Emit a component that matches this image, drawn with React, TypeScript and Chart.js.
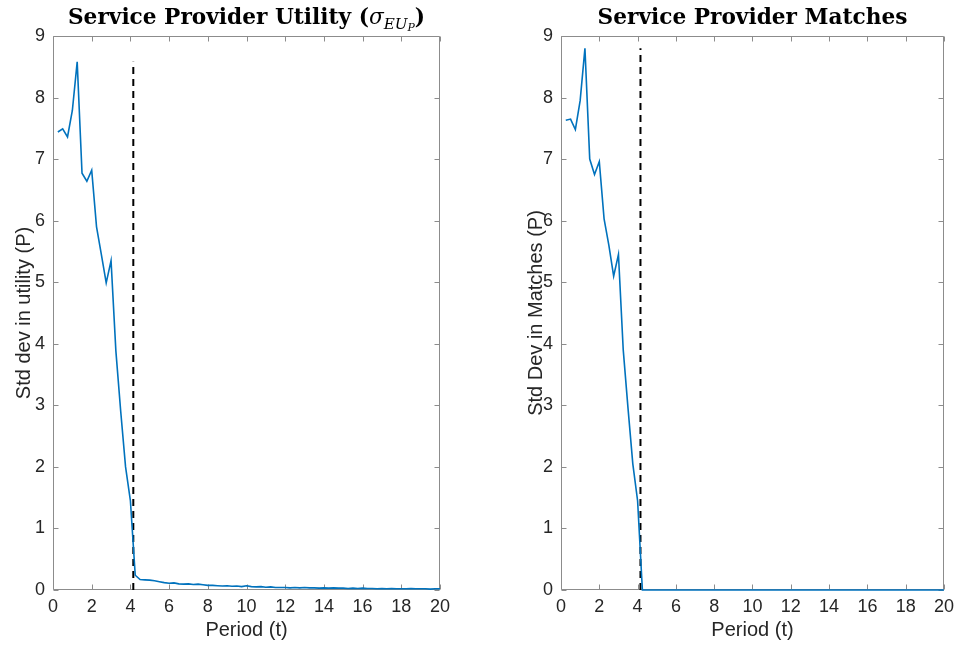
import React, { useEffect, useRef } from "react";
import { Chart, registerables } from "chart.js";

Chart.register(...registerables);

// Period (t) sample points
const periods = [
  0.25, 0.5, 0.75, 1.0, 1.25, 1.5, 1.75, 2.0, 2.25, 2.5, 2.75, 3.0, 3.25, 3.5, 3.75, 4.0,
  4.25, 4.5, 4.75, 5.0, 5.25, 5.5, 5.75, 6.0, 6.25, 6.5, 6.75, 7.0, 7.25, 7.5, 7.75, 8.0,
  8.25, 8.5, 8.75, 9.0, 9.25, 9.5, 9.75, 10.0, 10.25, 10.5, 10.75, 11.0, 11.25, 11.5, 11.75, 12.0,
  12.25, 12.5, 12.75, 13.0, 13.25, 13.5, 13.75, 14.0, 14.25, 14.5, 14.75, 15.0, 15.25, 15.5, 15.75, 16.0,
  16.25, 16.5, 16.75, 17.0, 17.25, 17.5, 17.75, 18.0, 18.25, 18.5, 18.75, 19.0, 19.25, 19.5, 19.75, 20.0,
];

// Std dev in utility (P)
const utilityStd = [
  7.44, 7.49, 7.36, 7.79, 8.58, 6.77, 6.64, 6.82, 5.9, 5.45, 4.99, 5.35, 3.88, 2.9, 2.0, 1.45,
  0.24, 0.17, 0.165, 0.16, 0.15, 0.135, 0.12, 0.11, 0.115, 0.1, 0.095, 0.1, 0.09, 0.095, 0.085, 0.075,
  0.075, 0.07, 0.065, 0.07, 0.06, 0.065, 0.055, 0.07, 0.055, 0.05, 0.055, 0.045, 0.05, 0.04, 0.04, 0.04,
  0.035, 0.04, 0.035, 0.04, 0.035, 0.035, 0.03, 0.035, 0.03, 0.035, 0.03, 0.03, 0.025, 0.03, 0.025, 0.03,
  0.025, 0.025, 0.02, 0.025, 0.02, 0.025, 0.02, 0.02, 0.02, 0.025, 0.02, 0.02, 0.02, 0.015, 0.02, 0.02,
];

// Std dev in matches (P)
const matchesStd = [
  7.63, 7.65, 7.48, 7.95, 8.8, 7.0, 6.75, 6.96, 6.03, 5.6, 5.1, 5.45, 3.9, 2.95, 2.05, 1.45,
  0, 0, 0, 0, 0, 0, 0, 0, 0, 0, 0, 0, 0, 0, 0, 0,
  0, 0, 0, 0, 0, 0, 0, 0, 0, 0, 0, 0, 0, 0, 0, 0,
  0, 0, 0, 0, 0, 0, 0, 0, 0, 0, 0, 0, 0, 0, 0, 0,
  0, 0, 0, 0, 0, 0, 0, 0, 0, 0, 0, 0, 0, 0, 0, 0,
];

// Vertical dashed marker (convergence period)
const markerX = [4.15, 4.15];
const utilityMarkerY = [0, 8.58];
const matchesMarkerY = [0, 8.8];

const xMin = 0;
const xMax = 20;
const xStep = 2;
const yMin = 0;
const yMax = 9;
const yStep = 1;

const BLUE = "#0072BD";
const AXIS = "#8c8c8c";
const TEXT = "#262626";
const SANS = '"Liberation Sans", Arial, sans-serif';
const SERIF = '"DejaVu Serif", serif';

type TitlePart = { text: string; style: string; scale: number; dy: number };

const utilityTitle: TitlePart[] = [
  { text: "Service Provider Utility (", style: "bold", scale: 1, dy: 0 },
  { text: "σ", style: "italic", scale: 1, dy: 0 },
  { text: "EU", style: "italic", scale: 0.7, dy: 0.22 },
  { text: "P", style: "italic", scale: 0.5, dy: 0.34 },
  { text: ")", style: "bold", scale: 1, dy: 0 },
];
const matchesTitle: TitlePart[] = [
  { text: "Service Provider Matches", style: "bold", scale: 1, dy: 0 },
];

const framePlugin = {
  id: "frameTicks",
  beforeDatasetsDraw(chart: any) {
    const { ctx, chartArea: a, scales } = chart;
    const xs = scales.x;
    const ys = scales.y;
    const L = Math.round(a.left) + 0.5;
    const R = Math.round(a.right) - 0.5;
    const T = Math.round(a.top) + 0.5;
    const B = Math.round(a.bottom) - 0.5;
    ctx.save();
    ctx.strokeStyle = AXIS;
    ctx.lineWidth = 1;
    ctx.beginPath();
    ctx.rect(L, T, R - L, B - T);
    const tl = 5;
    xs.ticks.forEach((t: any) => {
      const px = Math.round(xs.getPixelForValue(t.value)) + 0.5;
      ctx.moveTo(px, B);
      ctx.lineTo(px, B - tl);
      ctx.moveTo(px, T);
      ctx.lineTo(px, T + tl);
    });
    ys.ticks.forEach((t: any) => {
      const py = Math.round(ys.getPixelForValue(t.value)) + 0.5;
      ctx.moveTo(L, py);
      ctx.lineTo(L + tl, py);
      ctx.moveTo(R, py);
      ctx.lineTo(R - tl, py);
    });
    ctx.stroke();
    ctx.restore();
  },
};

const titlePlugin = {
  id: "mathTitle",
  afterDraw(chart: any, _args: any, opts: any) {
    const parts: TitlePart[] = opts.parts || [];
    const { ctx, chartArea: a } = chart;
    ctx.save();
    // size chosen so "Service Provider Matches" is ~310px wide
    ctx.font = `bold 20px ${SERIF}`;
    const ref = ctx.measureText("Service Provider Matches").width;
    const S = (20 * 310) / ref;
    const fontFor = (p: TitlePart) => `${p.style} ${(S * p.scale).toFixed(2)}px ${SERIF}`;
    let total = 0;
    parts.forEach((p) => {
      ctx.font = fontFor(p);
      total += ctx.measureText(p.text).width;
    });
    let x = (a.left + a.right) / 2 - total / 2;
    const baseY = 24;
    ctx.fillStyle = "#000";
    ctx.textBaseline = "alphabetic";
    ctx.textAlign = "left";
    parts.forEach((p) => {
      ctx.font = fontFor(p);
      ctx.fillText(p.text, x, baseY + p.dy * S);
      x += ctx.measureText(p.text).width;
    });
    ctx.restore();
  },
};

function makeConfig(
  values: number[],
  markerY: number[],
  yTitle: string,
  titleParts: TitlePart[],
  padLeft: number,
  yAxisWidth: number,
  padRight: number
): any {
  return {
    type: "line",
    data: {
      datasets: [
        {
          data: periods.map((t, i) => ({ x: t, y: values[i] })),
          borderColor: BLUE,
          borderWidth: 1.6,
          pointRadius: 0,
          tension: 0,
          fill: false,
          clip: false,
        },
        {
          data: markerX.map((t, i) => ({ x: t, y: markerY[i] })),
          borderColor: "#000000",
          borderWidth: 2,
          borderDash: [7, 5],
          pointRadius: 0,
          fill: false,
          clip: false,
        },
      ],
    },
    options: {
      animation: false,
      responsive: false,
      maintainAspectRatio: false,
      layout: { padding: { top: 36, left: padLeft, right: padRight, bottom: 0 } },
      plugins: {
        legend: { display: false },
        tooltip: { enabled: false },
        title: { display: false },
        mathTitle: { parts: titleParts },
      },
      scales: {
        x: {
          type: "linear",
          min: xMin,
          max: xMax,
          grid: { display: false, drawTicks: false },
          border: { display: false },
          ticks: {
            stepSize: xStep,
            color: TEXT,
            font: { family: SANS, size: 18 },
            padding: 6,
            maxRotation: 0,
          },
          title: {
            display: true,
            text: "Period (t)",
            color: TEXT,
            font: { family: SANS, size: 20 },
            padding: { top: 2, bottom: 3 },
          },
          afterFit(scale: any) {
            scale.height = 55;
          },
        },
        y: {
          type: "linear",
          min: yMin,
          max: yMax,
          grid: { display: false, drawTicks: false },
          border: { display: false },
          ticks: {
            stepSize: yStep,
            color: TEXT,
            font: { family: SANS, size: 18 },
            padding: 8,
          },
          title: {
            display: true,
            text: yTitle,
            color: TEXT,
            font: { family: SANS, size: 20 },
            padding: { top: 3, bottom: 2 },
          },
          afterFit(scale: any) {
            scale.width = yAxisWidth;
          },
        },
      },
    },
    plugins: [framePlugin, titlePlugin],
  };
}

function ChartCanvas({ config, left }: { config: () => any; left: number }) {
  const ref = useRef<HTMLCanvasElement | null>(null);
  useEffect(() => {
    if (!ref.current) return;
    const chart = new Chart(ref.current, config());
    return () => chart.destroy();
  }, []);
  return (
    <canvas
      ref={ref}
      width={480}
      height={645}
      style={{ position: "absolute", left, top: 0, width: 480, height: 645 }}
    />
  );
}

export default function App() {
  return (
    <div
      style={{
        position: "absolute",
        left: 0,
        top: 0,
        width: 961,
        height: 645,
        background: "#ffffff",
        overflow: "hidden",
      }}
    >
      <ChartCanvas
        left={0}
        config={() =>
          makeConfig(utilityStd, utilityMarkerY, "Std dev in utility (P)", utilityTitle, 9, 44, 40)
        }
      />
      <ChartCanvas
        left={480}
        config={() =>
          makeConfig(matchesStd, matchesMarkerY, "Std Dev in Matches (P)", matchesTitle, 41, 40, 13)
        }
      />
    </div>
  );
}
